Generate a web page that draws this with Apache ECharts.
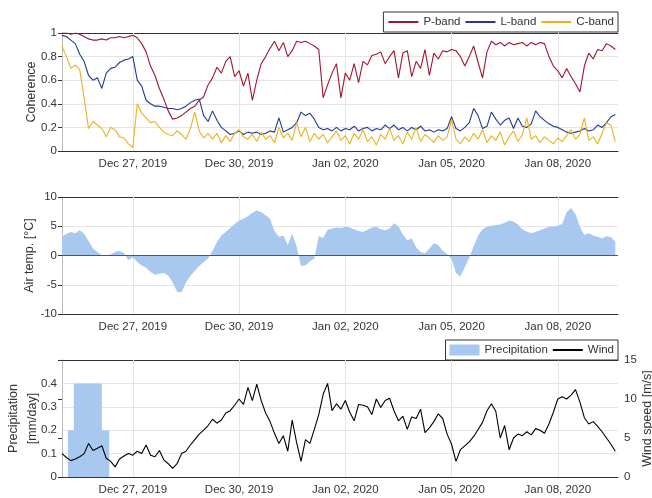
<!DOCTYPE html>
<html>
<head>
<meta charset="utf-8">
<script src="https://cdn.jsdelivr.net/npm/echarts@6/dist/echarts.min.js"></script>
<style>
  html, body { margin: 0; padding: 0; background: #fff; }
  #chart { width: 652px; height: 498px; }
</style>
</head>
<body>
<div id="chart"></div>
<script>
// time axis: days since Dec 25, 2019 00:00, one sample every 3 hours
const stepDays = 3 / 24;
const tickDays = [2, 5, 8, 11, 14];
const tickLabels = ['Dec 27, 2019', 'Dec 30, 2019', 'Jan 02, 2020', 'Jan 05, 2020', 'Jan 08, 2020'];

const pBand = [
  1.00, 1.00, 0.99, 1.00, 0.99, 0.97, 0.95, 0.94,
  0.94, 0.95, 0.94, 0.96, 0.96, 0.97, 0.96, 0.97,
  0.98, 0.96, 0.91, 0.84, 0.72, 0.64, 0.53, 0.44,
  0.34, 0.27, 0.28, 0.30, 0.33, 0.36, 0.38, 0.43,
  0.46, 0.56, 0.62, 0.71, 0.66, 0.76, 0.80, 0.63,
  0.68, 0.55, 0.66, 0.43, 0.60, 0.74, 0.80, 0.87,
  0.93, 0.85, 0.92, 0.80, 0.85, 0.93, 0.92, 0.93,
  0.91, 0.89, 0.86, 0.45, 0.56, 0.66, 0.74, 0.45,
  0.66, 0.60, 0.74, 0.58, 0.76, 0.73, 0.81, 0.82,
  0.84, 0.74, 0.80, 0.85, 0.62, 0.83, 0.85, 0.63,
  0.76, 0.70, 0.86, 0.64, 0.83, 0.78, 0.85, 0.84,
  0.86, 0.85, 0.80, 0.72, 0.80, 0.89, 0.75, 0.62,
  0.84, 0.93, 0.90, 0.92, 0.89, 0.92, 0.90, 0.91,
  0.92, 0.89, 0.92, 0.90, 0.92, 0.91, 0.80, 0.72,
  0.68, 0.62, 0.70, 0.63, 0.57, 0.50, 0.72, 0.83,
  0.78, 0.86, 0.85, 0.91, 0.89, 0.86
];
const lBand = [
  0.98, 0.97, 0.94, 0.91, 0.82, 0.76, 0.64, 0.60,
  0.62, 0.53, 0.66, 0.70, 0.71, 0.75, 0.77, 0.78,
  0.80, 0.60, 0.55, 0.43, 0.40, 0.38, 0.38, 0.37,
  0.36, 0.36, 0.35, 0.36, 0.38, 0.41, 0.43, 0.44,
  0.30, 0.25, 0.34, 0.26, 0.20, 0.17, 0.14, 0.15,
  0.17, 0.14, 0.16, 0.15, 0.16, 0.14, 0.15, 0.17,
  0.16, 0.28, 0.16, 0.18, 0.20, 0.24, 0.33, 0.30,
  0.32, 0.27, 0.20, 0.18, 0.19, 0.17, 0.20, 0.17,
  0.19, 0.18, 0.21, 0.17, 0.19, 0.20, 0.17, 0.19,
  0.18, 0.22, 0.19, 0.22, 0.18, 0.20, 0.17, 0.20,
  0.18, 0.21, 0.17, 0.18, 0.16, 0.18, 0.17, 0.19,
  0.29, 0.19, 0.17, 0.20, 0.24, 0.36, 0.30, 0.19,
  0.21, 0.33, 0.27, 0.22, 0.26, 0.28, 0.19, 0.28,
  0.21, 0.20, 0.23, 0.34, 0.29, 0.26, 0.23, 0.21,
  0.20, 0.18, 0.16, 0.15, 0.16, 0.17, 0.19, 0.17,
  0.18, 0.22, 0.20, 0.24, 0.29, 0.31
];
const cBand = [
  0.89, 0.80, 0.70, 0.73, 0.69, 0.45, 0.19, 0.25,
  0.22, 0.19, 0.12, 0.20, 0.18, 0.12, 0.11, 0.06,
  0.03, 0.40, 0.32, 0.28, 0.24, 0.25, 0.20, 0.16,
  0.14, 0.13, 0.17, 0.14, 0.10, 0.19, 0.33, 0.17,
  0.11, 0.15, 0.10, 0.15, 0.07, 0.13, 0.08, 0.15,
  0.18, 0.12, 0.10, 0.14, 0.08, 0.16, 0.10, 0.13,
  0.07, 0.20, 0.11, 0.15, 0.09, 0.24, 0.12, 0.20,
  0.08, 0.15, 0.10, 0.14, 0.07, 0.12, 0.17, 0.09,
  0.13, 0.06, 0.15, 0.10, 0.18, 0.08, 0.12, 0.05,
  0.14, 0.10, 0.19, 0.09, 0.13, 0.06, 0.16, 0.10,
  0.20, 0.08, 0.14, 0.11, 0.07, 0.13, 0.09, 0.12,
  0.27, 0.10, 0.06, 0.12, 0.08, 0.15, 0.10, 0.18,
  0.07, 0.13, 0.09, 0.16, 0.05, 0.12, 0.17, 0.08,
  0.14, 0.28, 0.10, 0.13, 0.07, 0.12, 0.09, 0.06,
  0.11, 0.08, 0.13, 0.18, 0.10, 0.14, 0.28, 0.09,
  0.12, 0.06, 0.15, 0.24, 0.22, 0.08
];
const airTemp = [
  3.2, 3.7, 4.0, 3.8, 4.3, 3.7, 2.5, 1.2,
  0.6, 0.0, -0.1, 0.2, 0.6, 0.8, 0.4, -0.8,
  -0.3, -1.1, -1.7, -2.1, -2.8, -3.3, -3.1, -3.0,
  -3.4, -4.6, -6.2, -6.3, -4.6, -3.5, -2.6, -1.8,
  -1.1, -0.5, 0.8, 2.3, 3.4, 4.0, 4.7, 5.4,
  6.0, 6.3, 6.7, 7.3, 7.7, 7.4, 6.9, 6.3,
  4.2, 3.2, 3.4, 1.8, 3.7, 1.6, -1.8, -1.7,
  -1.0, -0.5, 3.3, 3.0, 4.4, 4.6, 4.8, 4.7,
  4.9, 4.8, 4.5, 4.2, 4.0, 4.4, 4.8, 4.9,
  4.5, 4.3, 4.6, 5.5, 5.0, 3.6, 2.6, 2.9,
  1.4, 0.6, 0.4, 1.2, 2.1, 1.8, 0.8, 0.2,
  -0.6, -3.0, -3.6, -2.0, -0.4, 1.6, 3.4, 4.5,
  4.9, 5.1, 5.2, 5.3, 5.6, 6.0, 5.8, 5.3,
  4.5, 4.1, 3.8, 4.0, 4.3, 4.6, 4.9, 4.9,
  5.1, 5.4, 7.4, 8.1, 7.1, 4.9, 3.5, 3.8,
  3.4, 3.2, 2.9, 3.3, 3.1, 2.4
];
const wind = [
  3.0, 2.5, 2.1, 2.3, 2.6, 3.0, 4.3, 3.4,
  3.7, 4.0, 2.4, 2.0, 1.3, 2.3, 2.7, 3.0,
  2.8, 3.3, 3.0, 4.1, 2.8, 2.6, 3.4, 2.2,
  1.7, 1.1, 1.7, 3.0, 3.3, 4.1, 4.8, 5.5,
  6.0, 6.6, 7.4, 6.9, 7.3, 8.2, 8.5, 9.2,
  10.0, 9.3, 11.5, 9.8, 11.9, 9.8, 8.2, 7.1,
  5.6, 4.3, 5.3, 3.3, 7.3, 4.4, 2.0, 4.8,
  4.3, 6.1, 8.0, 10.6, 12.0, 8.5, 9.4, 8.7,
  9.8, 8.3, 7.2, 9.3, 9.2, 9.0, 8.0, 10.0,
  8.9, 9.8, 10.1, 8.5, 7.2, 7.8, 6.1, 7.7,
  7.5, 8.7, 5.7, 6.3, 7.1, 8.1, 7.5, 5.5,
  4.2, 2.0, 3.5, 4.0, 4.5, 5.2, 6.1, 7.0,
  8.5, 9.4, 8.4, 5.0, 6.6, 3.5, 5.0, 5.5,
  5.3, 5.8, 5.4, 6.2, 6.0, 5.6, 6.8, 8.3,
  10.0, 10.3, 10.0, 10.5, 11.2, 9.6, 7.6, 6.8,
  7.1, 6.5, 5.8, 5.0, 4.2, 3.3
];
// precipitation steps: start hour (since Dec 25 00:00) and rate from then on
const precipStartHours = [4, 8, 27, 32];
const precipRates = [0.2, 0.4, 0.2, 0];

const xMax = 15.7;
const font = 'Liberation Sans, Arial, sans-serif';
const dark = '#333';
const edge = '#bdbdbd';
const gridColor = '#e4e4e4';
const rainColor = '#a9c8ef';

const toPairs = vals => vals.map((v, i) => [i * stepDays, v]);
const precipPairs = precipStartHours.map((h, i) => [h / 24, precipRates[i]]);

const gridTops = [33, 197, 360];
const gridHeights = [118, 117, 117];

let xAxes = [];
gridTops.forEach((t, g) => {
  xAxes.push({
    type: 'value', gridIndex: g, min: 0, max: xMax, position: 'bottom',
    axisLine: { onZero: false, lineStyle: { color: dark } },
    axisTick: { inside: true, length: 4, customValues: tickDays, lineStyle: { color: dark } },
    axisLabel: {
      customValues: tickDays, color: dark, fontSize: 11.5, margin: 7,
      formatter: v => tickLabels[tickDays.indexOf(Math.round(v))] || ''
    },
    splitLine: { show: false }
  });
  xAxes.push({
    type: 'value', gridIndex: g, min: 0, max: xMax, position: 'top',
    axisLine: { onZero: false, lineStyle: { color: dark } },
    axisTick: { inside: true, length: 4, customValues: tickDays, lineStyle: { color: dark } },
    axisLabel: { show: false },
    splitLine: { show: false }
  });
});

function leftY(g, min, max, interval, name, nameGap, extra) {
  return Object.assign({
    type: 'value', gridIndex: g, min: min, max: max, interval: interval, position: 'left',
    name: name, nameLocation: 'middle', nameGap: nameGap, nameMoveOverlap: false,
    nameTextStyle: { color: dark, fontSize: 12.5 },
    axisLine: { show: true, lineStyle: { color: edge } },
    axisTick: { show: false },
    axisLabel: { color: dark, fontSize: 11.5, margin: 5 },
    splitLine: { show: true, lineStyle: { color: gridColor } }
  }, extra || {});
}
function rightY(g, min, max, interval, extra) {
  return Object.assign({
    type: 'value', gridIndex: g, min: min, max: max, interval: interval, position: 'right',
    axisLine: { show: true, lineStyle: { color: edge } },
    axisTick: { show: true, inside: true, length: 4, lineStyle: { color: dark } },
    axisLabel: { show: false },
    splitLine: { show: false }
  }, extra || {});
}

const yAxes = [
  leftY(0, 0, 1, 0.2, 'Coherence', 24),
  rightY(0, 0, 1, 0.2),
  leftY(1, -10, 10, 5, 'Air temp. [°C]', 26),
  rightY(1, -10, 10, 5),
  leftY(2, 0, 0.5, 0.1, 'Precipitation\n[mm/day]', 20, {
    nameTextStyle: { color: dark, fontSize: 12.5, lineHeight: 19 },
    axisLabel: { color: dark, fontSize: 11.5, margin: 5, formatter: v => (v > 0.45 ? '' : String(+v.toFixed(1))) }
  }),
  rightY(2, 0, 15, 5, {
    name: 'Wind speed [m/s]', nameLocation: 'middle', nameGap: 23, nameMoveOverlap: false,
    nameTextStyle: { color: dark, fontSize: 12.5 },
    axisLabel: { show: true, color: dark, fontSize: 11.5, margin: 6 }
  })
];

function gridLines(g) {
  return {
    type: 'line', xAxisIndex: 2 * g, yAxisIndex: 2 * g, data: [], silent: true,
    markLine: {
      silent: true, symbol: ['none', 'none'], z: 1, label: { show: false },
      lineStyle: { color: gridColor, width: 1, type: 'solid' },
      data: tickDays.map(d => ({ xAxis: d }))
    }
  };
}

function lineSeries(name, vals, color, xi, yi) {
  return {
    name: name, type: 'line', xAxisIndex: xi, yAxisIndex: yi, data: toPairs(vals),
    symbol: 'none', showSymbol: false, lineStyle: { color: color, width: 1.1 },
    itemStyle: { color: color }
  };
}

const option = {
  animation: false,
  textStyle: { fontFamily: font },
  grid: gridTops.map((t, g) => ({
    left: 62, right: 34, top: t, height: gridHeights[g], outerBoundsMode: 'none', containLabel: false
  })),
  xAxis: xAxes,
  yAxis: yAxes,
  legend: [
    {
      data: ['P-band', 'L-band', 'C-band'],
      right: 34, top: 12, itemWidth: 30, itemHeight: 10, itemGap: 4,
      itemStyle: { opacity: 0 },
      padding: [4, 4], borderColor: dark, borderWidth: 1, backgroundColor: '#fff',
      textStyle: { color: dark, fontSize: 11.5 }
    },
    {
      data: [
        { name: 'Precipitation', icon: 'rect', itemStyle: { opacity: 1, color: rainColor } },
        { name: 'Wind' }
      ],
      right: 34, top: 340, itemWidth: 30, itemHeight: 11, itemGap: 4,
      itemStyle: { opacity: 0 },
      padding: [4, 4], borderColor: dark, borderWidth: 1, backgroundColor: '#fff',
      textStyle: { color: dark, fontSize: 11.5 }
    }
  ],
  series: [
    gridLines(0), gridLines(1), gridLines(2),
    lineSeries('P-band', pBand, '#a2142f', 0, 0),
    lineSeries('L-band', lBand, '#1f3a93', 0, 0),
    lineSeries('C-band', cBand, '#edb120', 0, 0),
    {
      name: 'Air temperature', type: 'line', xAxisIndex: 2, yAxisIndex: 2, data: toPairs(airTemp),
      symbol: 'none', showSymbol: false, lineStyle: { width: 0 },
      areaStyle: { color: rainColor, opacity: 1 },
      markLine: {
        silent: true, symbol: ['none', 'none'], label: { show: false },
        lineStyle: { color: '#555', width: 1, type: 'solid' },
        data: [{ yAxis: 0 }]
      }
    },
    {
      name: 'Precipitation', type: 'line', xAxisIndex: 4, yAxisIndex: 4, data: precipPairs,
      step: 'end', symbol: 'none', showSymbol: false, lineStyle: { width: 0 },
      itemStyle: { color: rainColor },
      areaStyle: { color: rainColor, opacity: 1 }
    },
    lineSeries('Wind', wind, '#000', 4, 5)
  ]
};

const chart = echarts.init(document.getElementById('chart'));
chart.setOption(option);
</script>
</body>
</html>
